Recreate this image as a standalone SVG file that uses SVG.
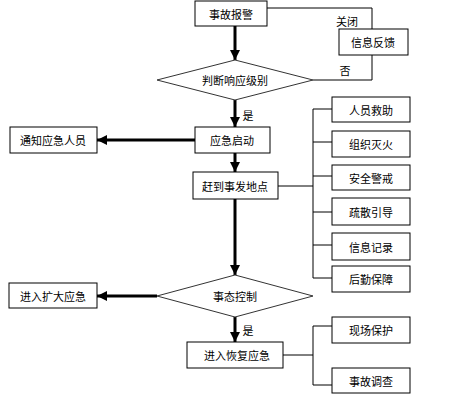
<svg xmlns="http://www.w3.org/2000/svg" width="450" height="396" viewBox="0 0 450 396">
<style>
.box{fill:#fff;stroke:#000;stroke-width:1}
.dia{fill:#fff;stroke:#333;stroke-width:1}
.t{font-family:"Noto Sans CJK SC","Noto Sans",sans-serif;font-size:11px;fill:#000;text-anchor:middle;dominant-baseline:central}
.thin{fill:none;stroke:#000;stroke-width:1}
.thick{fill:none;stroke:#000;stroke-width:3;marker-end:url(#ah)}
</style>
<defs>
<marker id="ah" markerUnits="userSpaceOnUse" markerWidth="12" markerHeight="12" refX="10" refY="5" orient="auto">
<path d="M0,0 L10,5 L0,10 Z" fill="#000"/>
</marker>
</defs>
<rect width="450" height="396" fill="#fff"/>
<g id="connectors">
<path class="thin" d="M267,8 H372 V30"/>
<path class="thin" d="M372,55 V80 H313"/>
<path class="thick" d="M235,26 V60"/>
<path class="thick" d="M235,100 V127"/>
<path class="thick" d="M195,140 H97"/>
<path class="thick" d="M235,153 V172"/>
<path class="thick" d="M235,199 V275"/>
<path class="thick" d="M157,296 H97"/>
<path class="thick" d="M235,317 V342"/>
<path class="thin" d="M278,186 H313"/>
<path class="thin" d="M313,109 V278"/>
<path class="thin" d="M313,109 H332 M313,142 H332 M313,176 H332 M313,212 H332 M313,245 H332 M313,278 H332"/>
<path class="thin" d="M283,355 H313 M313,326 V385 M313,326 H332 M313,385 H332"/>
<text class="t" x="347" y="21">关闭</text>
<text class="t" x="345" y="70">否</text>
<text class="t" x="248" y="115">是</text>
<text class="t" x="248" y="330">是</text>
</g>
<g id="n1"><rect class="box" x="195" y="1" width="72" height="25"/><text class="t" x="231" y="13.5">事故报警</text></g>
<g id="n2"><rect class="box" x="339" y="29" width="69" height="26"/><text class="t" x="373" y="42">信息反馈</text></g>
<g id="n3"><polygon class="dia" points="235,60 313,80 235,100 157,80"/><text class="t" x="235" y="80">判断响应级别</text></g>
<g id="n4"><rect class="box" x="195" y="127" width="75" height="26"/><text class="t" x="232" y="140">应急启动</text></g>
<g id="n5"><rect class="box" x="10" y="127" width="87" height="26"/><text class="t" x="53" y="140">通知应急人员</text></g>
<g id="n6"><rect class="box" x="193" y="172" width="85" height="27"/><text class="t" x="235" y="185.5">赶到事发地点</text></g>
<g id="n7"><rect class="box" x="332" y="97" width="78" height="25"/><text class="t" x="371" y="109.5">人员救助</text></g>
<g id="n8"><rect class="box" x="332" y="131" width="78" height="26"/><text class="t" x="371" y="144">组织灭火</text></g>
<g id="n9"><rect class="box" x="332" y="165" width="78" height="25"/><text class="t" x="371" y="177.5">安全警戒</text></g>
<g id="n10"><rect class="box" x="332" y="198" width="78" height="27"/><text class="t" x="371" y="211.5">疏散引导</text></g>
<g id="n11"><rect class="box" x="332" y="233" width="78" height="27"/><text class="t" x="371" y="246.5">信息记录</text></g>
<g id="n12"><rect class="box" x="332" y="266" width="78" height="26"/><text class="t" x="371" y="279">后勤保障</text></g>
<g id="n13"><polygon class="dia" points="235,275 313,296 235,317 157,296"/><text class="t" x="235" y="296">事态控制</text></g>
<g id="n14"><rect class="box" x="9" y="283" width="88" height="25"/><text class="t" x="53" y="295.5">进入扩大应急</text></g>
<g id="n15"><rect class="box" x="187" y="342" width="96" height="26"/><text class="t" x="237" y="355">进入恢复应急</text></g>
<g id="n16"><rect class="box" x="332" y="317" width="78" height="26"/><text class="t" x="371" y="330">现场保护</text></g>
<g id="n17"><rect class="box" x="332" y="368" width="78" height="25"/><text class="t" x="371" y="380.5">事故调查</text></g>
</svg>
